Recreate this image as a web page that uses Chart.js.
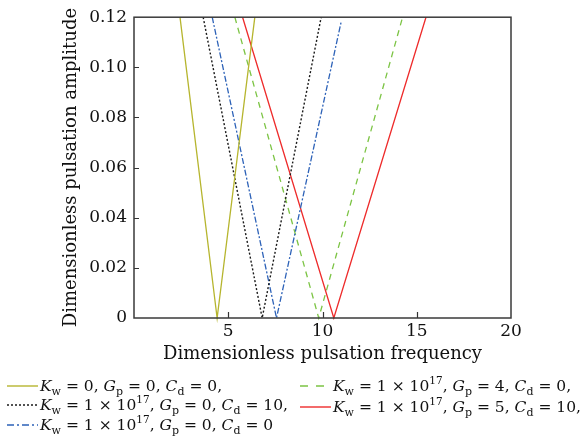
<!DOCTYPE html>
<html>
<head>
<meta charset="utf-8">
<script src="https://cdn.jsdelivr.net/npm/chart.js@4.4.0/dist/chart.umd.min.js"></script>
<style>
  html, body { margin: 0; padding: 0; background: #fff; overflow: hidden; }
  #wrap { position: relative; width: 584px; height: 444px; overflow: hidden; }
  canvas { position: absolute; left: 0; top: 0; }
  .lg { position: absolute; font-family: "DejaVu Serif", serif; font-size: 15.5px; color: #111; white-space: nowrap; height: 20px; line-height: 20px; }
  .lg svg { position: absolute; left: 0; top: 5px; }
  .lg .t { position: absolute; top: 0; }
  .lg i { font-style: italic; }
  .sb { font-size: 11px; position: relative; top: 4px; }
  .sp { font-size: 10.5px; position: relative; top: -7px; }
</style>
</head>
<body>
<div id="wrap">
<canvas id="c" width="584" height="444"></canvas>
<div class="lg" style="left:7px;top:376px;"><svg width="31" height="10"><line x1="0" y1="5" x2="31" y2="5" stroke="#b6b52e" stroke-width="1.4"/></svg><span class="t" style="left:33px;"><i>K</i><span class="sb">w</span> = 0, <i>G</i><span class="sb">p</span> = 0, <i>C</i><span class="sb">d</span> = 0,</span></div>
<div class="lg" style="left:7px;top:395px;"><svg width="31" height="10"><line x1="0" y1="5" x2="31" y2="5" stroke="#1a1a1a" stroke-width="1.4" stroke-dasharray="2,2"/></svg><span class="t" style="left:33px;"><i>K</i><span class="sb">w</span> = 1 × 10<span class="sp">17</span>, <i>G</i><span class="sb">p</span> = 0, <i>C</i><span class="sb">d</span> = 10,</span></div>
<div class="lg" style="left:7px;top:415px;"><svg width="31" height="10"><line x1="0" y1="5" x2="31" y2="5" stroke="#2d62b8" stroke-width="1.4" stroke-dasharray="7,3,2,3"/></svg><span class="t" style="left:33px;"><i>K</i><span class="sb">w</span> = 1 × 10<span class="sp">17</span>, <i>G</i><span class="sb">p</span> = 0, <i>C</i><span class="sb">d</span> = 0</span></div>
<div class="lg" style="left:300px;top:376px;"><svg width="31" height="10"><line x1="0" y1="5" x2="31" y2="5" stroke="#7cc444" stroke-width="1.4" stroke-dasharray="8,8"/></svg><span class="t" style="left:33px;"><i>K</i><span class="sb">w</span> = 1 × 10<span class="sp">17</span>, <i>G</i><span class="sb">p</span> = 4, <i>C</i><span class="sb">d</span> = 0,</span></div>
<div class="lg" style="left:300px;top:397px;"><svg width="31" height="10"><line x1="0" y1="5" x2="31" y2="5" stroke="#ee2b2b" stroke-width="1.4"/></svg><span class="t" style="left:33px;"><i>K</i><span class="sb">w</span> = 1 × 10<span class="sp">17</span>, <i>G</i><span class="sb">p</span> = 5, <i>C</i><span class="sb">d</span> = 10,</span></div>
</div>
<script>
// Data (frequency, amplitude)
const freqA = [2.44, 4.41, 6.41];   // Kw=0, Gp=0, Cd=0
const ampA  = [0.12, 0, 0.12];
const freqB = [3.67, 6.80, 9.93];   // Kw=1e17, Gp=0, Cd=10
const ampB  = [0.12, 0, 0.12];
const freqC = [4.15, 7.56, 11.0];   // Kw=1e17, Gp=0, Cd=0
const ampC  = [0.12, 0, 0.1185];
const freqD = [5.35, 9.80, 14.25];  // Kw=1e17, Gp=4, Cd=0
const ampD  = [0.12, 0, 0.12];
const freqE = [5.76, 10.60, 15.49]; // Kw=1e17, Gp=5, Cd=10
const ampE  = [0.12, 0, 0.12];

const xTicks = [5, 10, 15, 20];
const yTicks = [0, 0.02, 0.04, 0.06, 0.08, 0.10, 0.12];

const pts = (xs, ys) => xs.map((x, i) => ({x: x, y: ys[i]}));

const FONT = '"DejaVu Serif", serif';

const frame = {
  id: 'frame',
  afterDatasetsDraw(chart) {
    const ctx = chart.ctx, a = chart.chartArea;
    const xs = chart.scales.x, ys = chart.scales.y;
    ctx.save();
    ctx.strokeStyle = '#333';
    ctx.lineWidth = 1.2;
    ctx.beginPath();
    xTicks.forEach(v => {
      if (v >= 20) return;
      const px = Math.round(xs.getPixelForValue(v)) + 0.5;
      ctx.moveTo(px, a.bottom); ctx.lineTo(px, a.bottom - 6);
    });
    yTicks.forEach(v => {
      if (v <= 0 || v >= 0.12) return;
      const py = Math.round(ys.getPixelForValue(v)) + 0.5;
      ctx.moveTo(a.left, py); ctx.lineTo(a.left + 5, py);
    });
    ctx.stroke();
    ctx.lineWidth = 1.5;
    ctx.strokeStyle = '#3a3a3a';
    ctx.strokeRect(a.left, a.top, a.right - a.left, a.bottom - a.top);
    ctx.restore();
  }
};

new Chart(document.getElementById('c'), {
  type: 'line',
  data: {
    datasets: [
      {data: pts(freqA, ampA), borderColor: '#b6b52e', borderWidth: 1.3},
      {data: pts(freqB, ampB), borderColor: '#1a1a1a', borderWidth: 1.4, borderDash: [2, 2]},
      {data: pts(freqC, ampC), borderColor: '#2d62b8', borderWidth: 1.3, borderDash: [6, 2, 2, 2]},
      {data: pts(freqD, ampD), borderColor: '#7cc444', borderWidth: 1.3, borderDash: [6, 5]},
      {data: pts(freqE, ampE), borderColor: '#ee2b2b', borderWidth: 1.3}
    ].map(d => Object.assign({pointRadius: 0, tension: 0, fill: false, clip: false}, d))
  },
  options: {
    responsive: false,
    animation: false,
    events: [],
    layout: {padding: {left: 0, top: 17, right: 73, bottom: 79}},
    plugins: {legend: {display: false}, tooltip: {enabled: false}},
    scales: {
      x: {
        type: 'linear', min: 0, max: 20,
        afterFit: s => { s.height = 47; },
        afterBuildTicks: s => { s.ticks = [0].concat(xTicks).map(v => ({value: v})); },
        grid: {display: false, drawTicks: false},
        border: {display: false},
        ticks: {
          padding: 3, color: '#111', maxRotation: 0,
          font: {family: FONT, size: 17},
          callback: v => (v === 0 ? '' : String(v))
        },
        title: {display: true, text: 'Dimensionless pulsation frequency', color: '#111',
                font: {family: FONT, size: 18}, padding: {top: 0, bottom: 0}}
      },
      y: {
        type: 'linear', min: 0, max: 0.12,
        afterFit: s => { s.width = 134; },
        afterBuildTicks: s => { s.ticks = yTicks.map(v => ({value: v})); },
        grid: {display: false, drawTicks: false},
        border: {display: false},
        ticks: {
          padding: 7, color: '#111',
          font: {family: FONT, size: 17},
          callback: v => (v === 0 ? '0' : v.toFixed(2))
        },
        title: {display: true, text: 'Dimensionless pulsation amplitude', color: '#111',
                font: {family: FONT, size: 18}, padding: {top: 61, bottom: 0}}
      }
    }
  },
  plugins: [frame]
});
</script>
</body>
</html>
